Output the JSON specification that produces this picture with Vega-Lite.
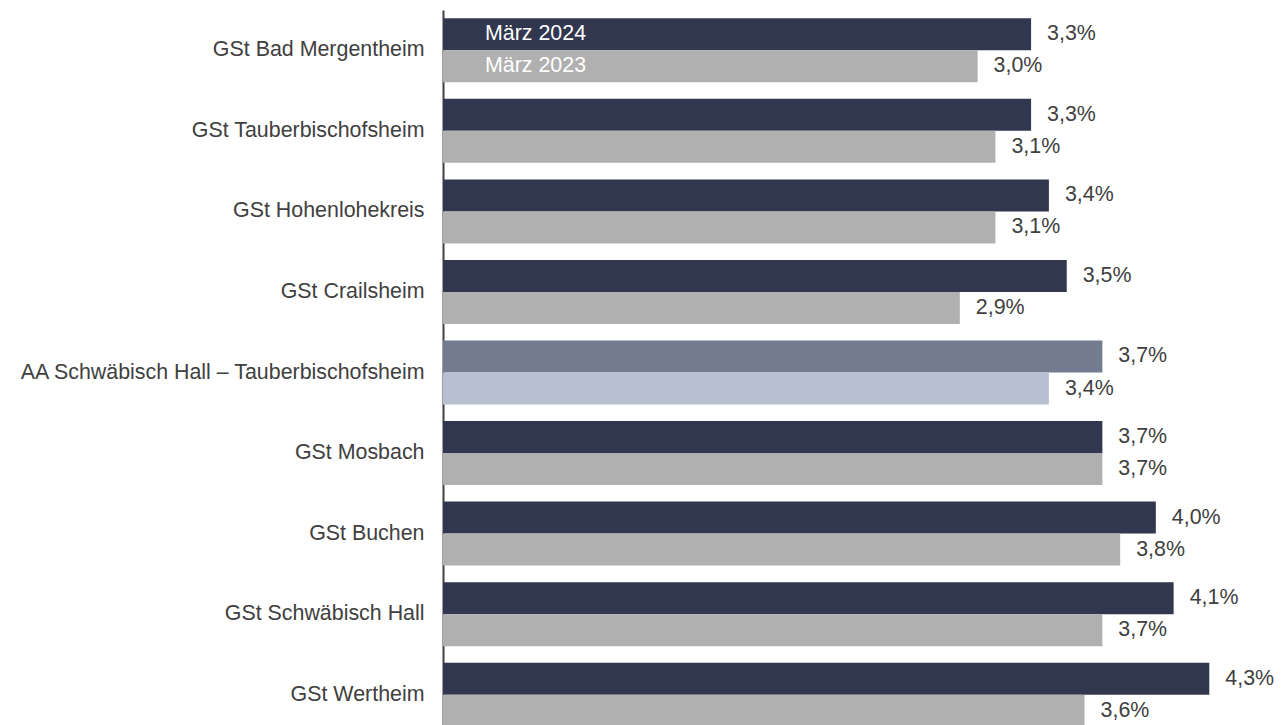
{
  "$schema": "https://vega.github.io/schema/vega-lite/v6.json",
  "width": 839,
  "height": 715,
  "autosize": {"type": "none"},
  "padding": {"left": 443, "top": 10, "right": 0, "bottom": 0},
  "config": {
    "view": {"stroke": null},
    "font": "Liberation Sans",
    "locale": {"number": {"decimal": ",", "thousands": ".", "grouping": [3], "currency": ["", " €"]}}
  },
  "data": {
    "values": [
      {"region": "GSt Bad Mergentheim", "jahr": "März 2024", "wert": 0.033},
      {"region": "GSt Bad Mergentheim", "jahr": "März 2023", "wert": 0.030},
      {"region": "GSt Tauberbischofsheim", "jahr": "März 2024", "wert": 0.033},
      {"region": "GSt Tauberbischofsheim", "jahr": "März 2023", "wert": 0.031},
      {"region": "GSt Hohenlohekreis", "jahr": "März 2024", "wert": 0.034},
      {"region": "GSt Hohenlohekreis", "jahr": "März 2023", "wert": 0.031},
      {"region": "GSt Crailsheim", "jahr": "März 2024", "wert": 0.035},
      {"region": "GSt Crailsheim", "jahr": "März 2023", "wert": 0.029},
      {"region": "AA Schwäbisch Hall – Tauberbischofsheim", "jahr": "März 2024", "wert": 0.037},
      {"region": "AA Schwäbisch Hall – Tauberbischofsheim", "jahr": "März 2023", "wert": 0.034},
      {"region": "GSt Mosbach", "jahr": "März 2024", "wert": 0.037},
      {"region": "GSt Mosbach", "jahr": "März 2023", "wert": 0.037},
      {"region": "GSt Buchen", "jahr": "März 2024", "wert": 0.040},
      {"region": "GSt Buchen", "jahr": "März 2023", "wert": 0.038},
      {"region": "GSt Schwäbisch Hall", "jahr": "März 2024", "wert": 0.041},
      {"region": "GSt Schwäbisch Hall", "jahr": "März 2023", "wert": 0.037},
      {"region": "GSt Wertheim", "jahr": "März 2024", "wert": 0.043},
      {"region": "GSt Wertheim", "jahr": "März 2023", "wert": 0.036}
    ]
  },
  "transform": [
    {"calculate": "datum.jahr + (indexof(datum.region, 'AA') === 0 ? ' AA' : '')", "as": "farbe"}
  ],
  "encoding": {
    "y": {
      "field": "region",
      "type": "nominal",
      "sort": null,
      "title": null,
      "scale": {"range": [0, 725], "paddingInner": 0.2055, "paddingOuter": 0.1028},
      "axis": {
        "ticks": false,
        "labelFontSize": 21.4,
        "labelColor": "#404040",
        "labelFont": "Liberation Sans",
        "labelPadding": 19,
        "labelLimit": 0,
        "domainColor": "#404040",
        "domainWidth": 2
      }
    },
    "yOffset": {
      "field": "jahr",
      "type": "nominal",
      "sort": ["März 2024", "März 2023"],
      "scale": {"paddingInner": 0, "paddingOuter": 0}
    },
    "x": {
      "field": "wert",
      "type": "quantitative",
      "scale": {"domain": [0, 0.04708], "nice": false, "zero": true},
      "axis": null
    }
  },
  "layer": [
    {
      "mark": {"type": "bar"},
      "encoding": {
        "color": {
          "field": "farbe",
          "type": "nominal",
          "legend": null,
          "scale": {
            "domain": ["März 2024", "März 2023", "März 2024 AA", "März 2023 AA"],
            "range": ["#30374f", "#b0b0b0", "#737b8f", "#b8bfd1"]
          }
        }
      }
    },
    {
      "mark": {"type": "text", "align": "left", "baseline": "middle", "dx": 16, "fontSize": 21.4, "color": "#404040", "font": "Liberation Sans"},
      "encoding": {"text": {"field": "wert", "type": "quantitative", "format": ".1%"}}
    },
    {
      "transform": [{"filter": "datum.region === 'GSt Bad Mergentheim'"}],
      "mark": {"type": "text", "align": "left", "baseline": "middle", "dx": 42, "fontSize": 21.4, "color": "white", "font": "Liberation Sans"},
      "encoding": {"x": {"datum": 0}, "text": {"field": "jahr", "type": "nominal"}}
    }
  ]
}
